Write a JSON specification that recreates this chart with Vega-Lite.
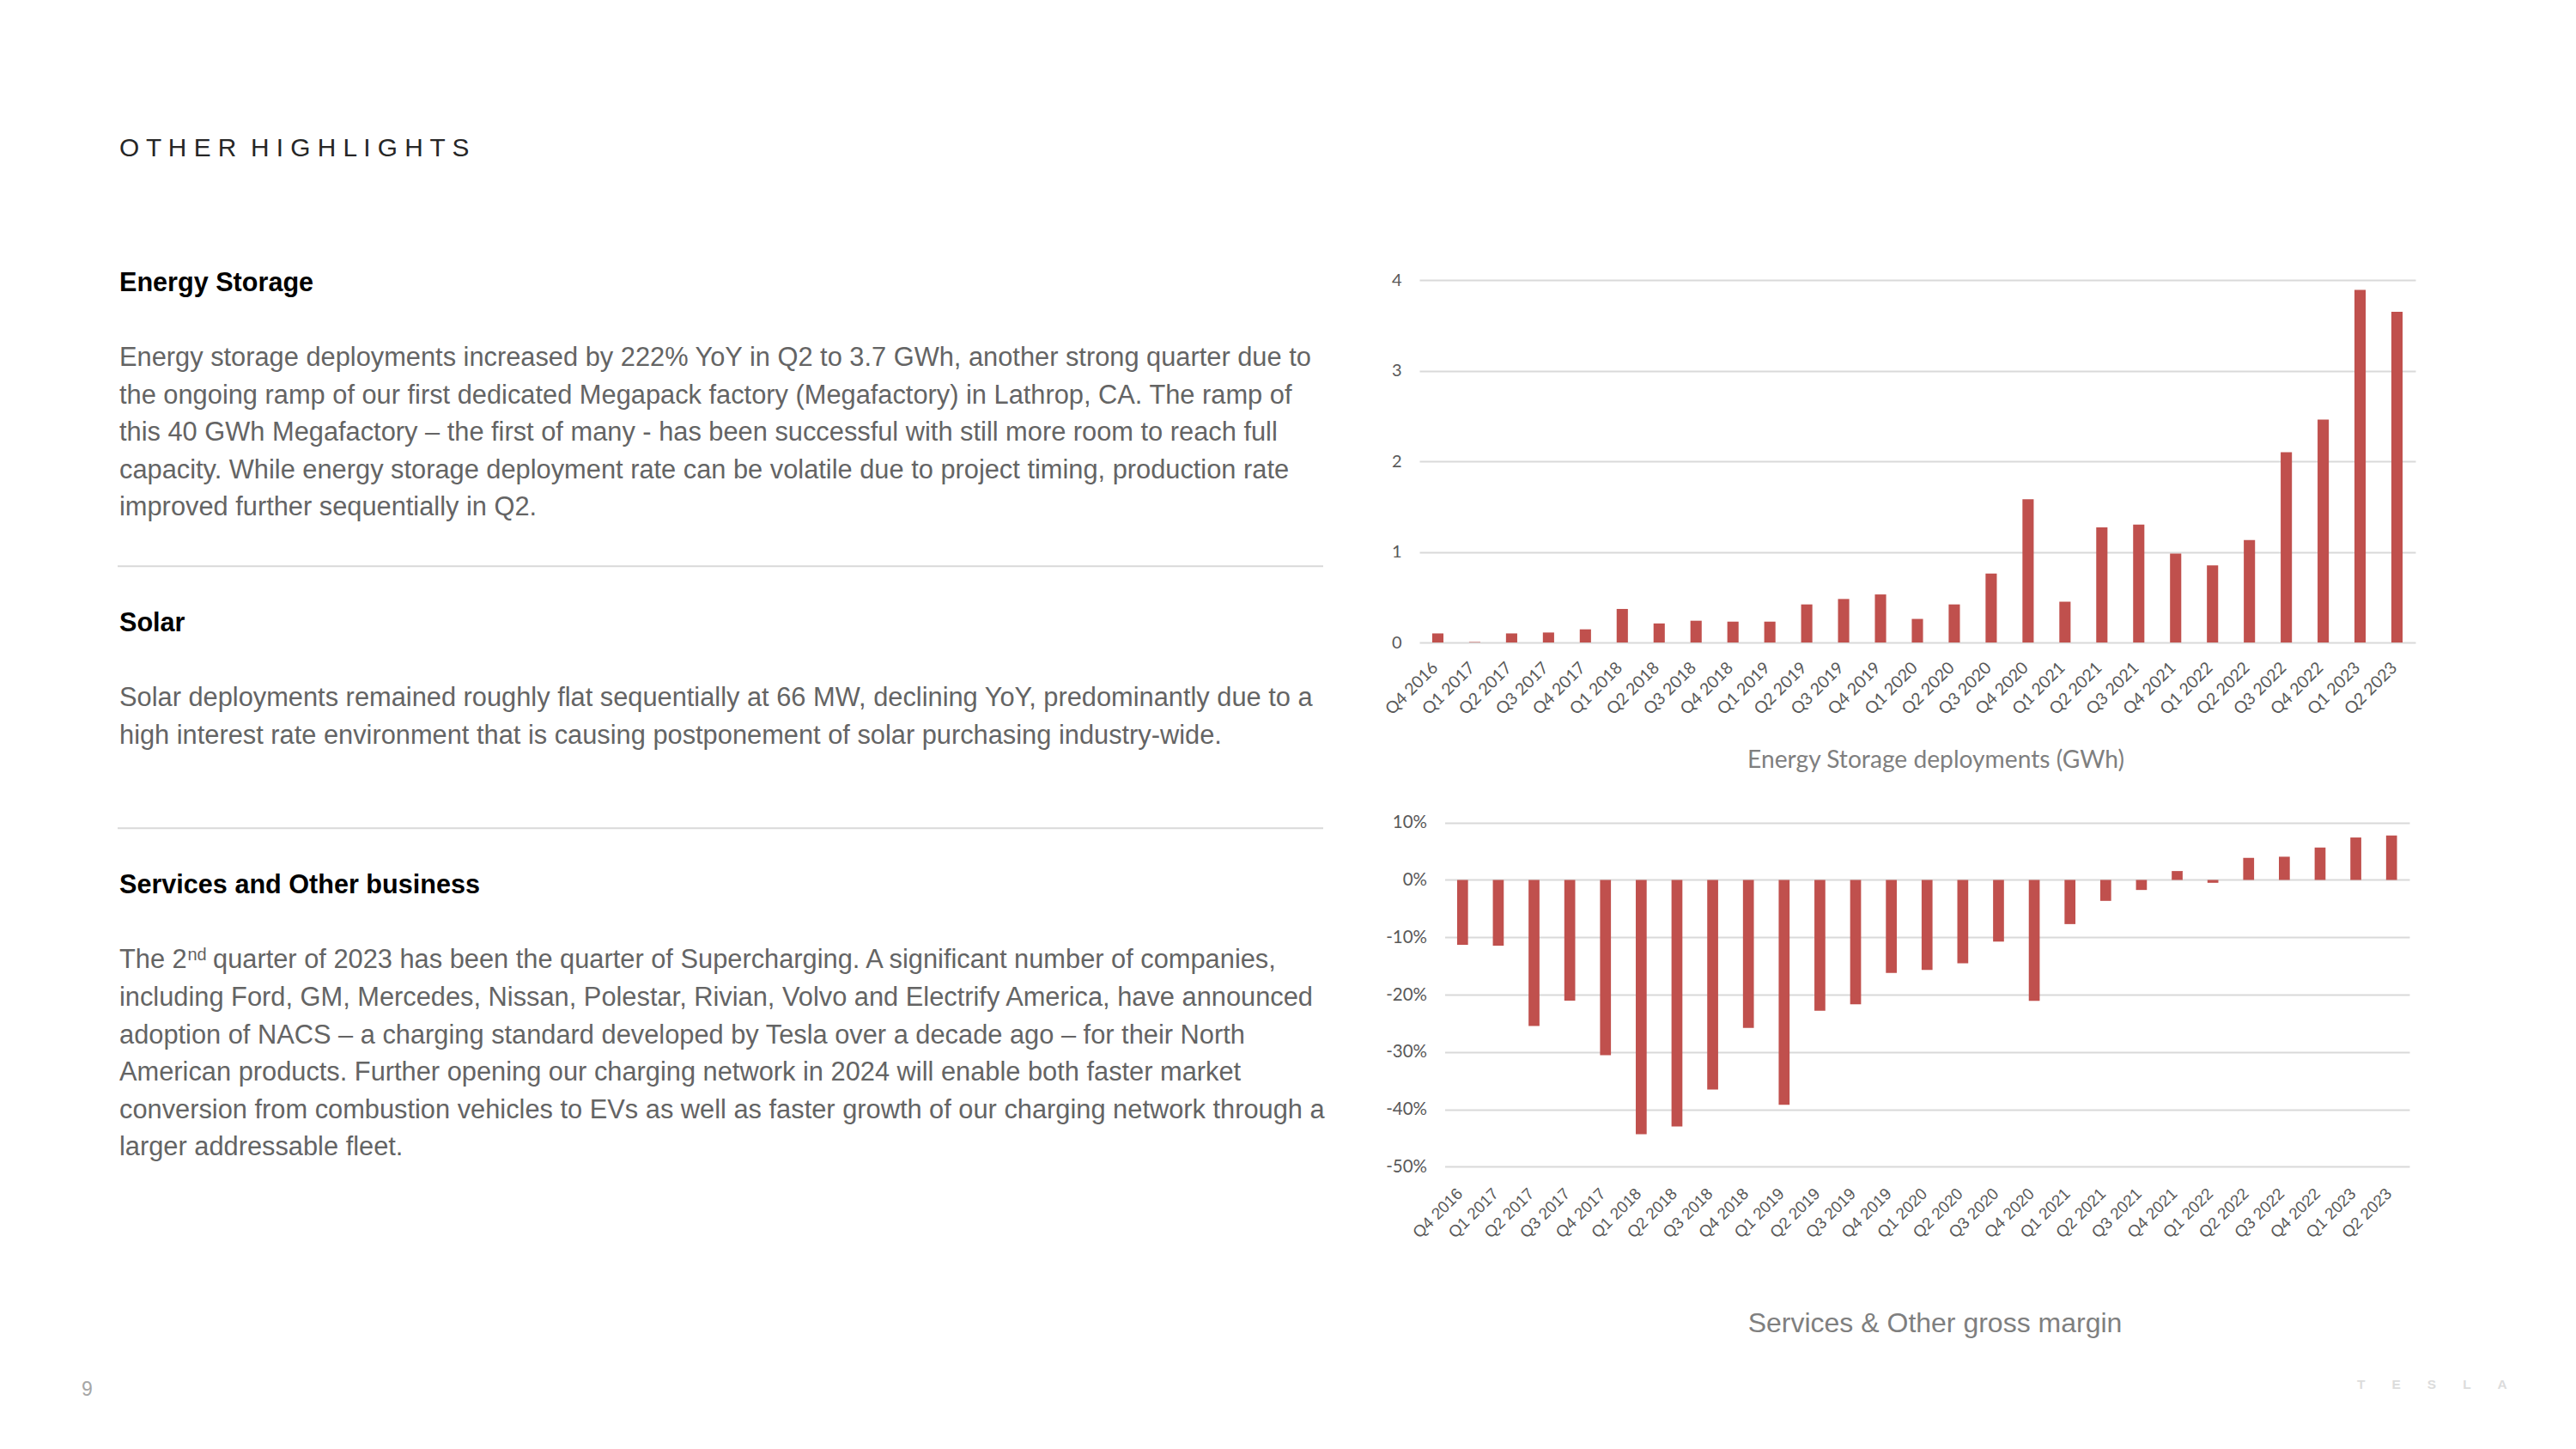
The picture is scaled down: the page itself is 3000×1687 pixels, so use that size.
{
  "$schema": "https://vega.github.io/schema/vega-lite/v6.json",
  "width": 3000,
  "height": 1687,
  "padding": 0,
  "autosize": {"type": "none"},
  "background": "white",
  "config": {"view": {"stroke": null}, "font": "Liberation Sans"},
  "datasets": {
    "q": [
      {"quarter": "Q4 2016", "storage": 0.10, "margin": -11.3},
      {"quarter": "Q1 2017", "storage": 0.005, "margin": -11.45},
      {"quarter": "Q2 2017", "storage": 0.10, "margin": -25.45},
      {"quarter": "Q3 2017", "storage": 0.11, "margin": -21.05},
      {"quarter": "Q4 2017", "storage": 0.145, "margin": -30.55},
      {"quarter": "Q1 2018", "storage": 0.37, "margin": -44.35},
      {"quarter": "Q2 2018", "storage": 0.21, "margin": -43.0},
      {"quarter": "Q3 2018", "storage": 0.24, "margin": -36.55},
      {"quarter": "Q4 2018", "storage": 0.23, "margin": -25.8},
      {"quarter": "Q1 2019", "storage": 0.23, "margin": -39.2},
      {"quarter": "Q2 2019", "storage": 0.42, "margin": -22.8},
      {"quarter": "Q3 2019", "storage": 0.48, "margin": -21.7},
      {"quarter": "Q4 2019", "storage": 0.53, "margin": -16.2},
      {"quarter": "Q1 2020", "storage": 0.26, "margin": -15.7},
      {"quarter": "Q2 2020", "storage": 0.42, "margin": -14.55},
      {"quarter": "Q3 2020", "storage": 0.76, "margin": -10.75},
      {"quarter": "Q4 2020", "storage": 1.58, "margin": -21.1},
      {"quarter": "Q1 2021", "storage": 0.45, "margin": -7.7},
      {"quarter": "Q2 2021", "storage": 1.27, "margin": -3.65},
      {"quarter": "Q3 2021", "storage": 1.30, "margin": -1.75},
      {"quarter": "Q4 2021", "storage": 0.98, "margin": 1.55},
      {"quarter": "Q1 2022", "storage": 0.85, "margin": -0.5},
      {"quarter": "Q2 2022", "storage": 1.13, "margin": 3.85},
      {"quarter": "Q3 2022", "storage": 2.10, "margin": 4.05},
      {"quarter": "Q4 2022", "storage": 2.46, "margin": 5.65},
      {"quarter": "Q1 2023", "storage": 3.89, "margin": 7.4},
      {"quarter": "Q2 2023", "storage": 3.65, "margin": 7.75}
    ]
  },
  "layer": [
    {
      "data": {"name": "q"},
      "mark": {"type": "bar", "color": "#C0504D"},
      "encoding": {
        "x": {
          "field": "quarter", "type": "nominal", "sort": null,
          "scale": {"range": [1653, 2813], "paddingInner": 0.695, "paddingOuter": 0.3475},
          "axis": {
            "orient": "bottom", "offset": -939,
            "title": "Energy Storage deployments (GWh)",
            "titleX": 2254, "titleY": 137, "titleAlign": "center", "titleBaseline": "middle", "titleAngle": 0,
            "titleFont": "Lato", "titleFontSize": 28.2, "titleFontWeight": "normal", "titleColor": "#7f7f7f",
            "labelAngle": -45, "labelAlign": "right", "labelBaseline": "middle",
            "labelPadding": 26, "labelOffset": -3, "labelFont": "Lato", "labelFontSize": 19.5, "labelColor": "#595959",
            "labelOverlap": false, "labelBound": false,
            "ticks": false, "tickSize": 0, "domain": false, "grid": false
          }
        },
        "y": {
          "field": "storage", "type": "quantitative",
          "scale": {"domain": [0, 4], "range": [748, 326], "nice": false},
          "axis": {
            "orient": "left", "offset": -1653, "values": [0, 1, 2, 3, 4], "title": null,
            "domain": false, "ticks": false, "tickSize": 0, "labelPadding": 21,
            "labelFont": "Lato", "labelFontSize": 20, "labelColor": "#595959",
            "grid": true, "gridColor": "#d9d9d9", "gridWidth": 2
          }
        }
      }
    },
    {
      "data": {"name": "q"},
      "mark": {"type": "bar", "color": "#C0504D"},
      "encoding": {
        "x": {
          "field": "quarter", "type": "nominal", "sort": null,
          "scale": {"range": [1682.5, 2806], "paddingInner": 0.695, "paddingOuter": 0.3475},
          "axis": {
            "orient": "bottom", "offset": -328.7,
            "title": "Services & Other gross margin",
            "titleX": 2253, "titleY": 181.7, "titleAlign": "center", "titleBaseline": "middle", "titleAngle": 0,
            "titleFont": "Liberation Sans", "titleFontSize": 32, "titleFontWeight": "normal", "titleColor": "#7f7f7f",
            "labelAngle": -45, "labelAlign": "right", "labelBaseline": "middle",
            "labelPadding": 28, "labelOffset": -3, "labelFont": "Liberation Sans", "labelFontSize": 19, "labelColor": "#595959",
            "labelOverlap": false, "labelBound": false,
            "ticks": false, "tickSize": 0, "domain": false, "grid": false
          }
        },
        "y": {
          "field": "margin", "type": "quantitative",
          "scale": {"domain": [-50, 10], "range": [1358.3, 957.7], "nice": false},
          "axis": {
            "orient": "left", "offset": -1682.5, "values": [-50, -40, -30, -20, -10, 0, 10], "title": null,
            "labelExpr": "datum.value + '%'",
            "domain": false, "ticks": false, "tickSize": 0, "labelPadding": 21,
            "labelFont": "Lato", "labelFontSize": 20.5, "labelColor": "#595959",
            "grid": true, "gridColor": "#d9d9d9", "gridWidth": 2
          }
        }
      }
    },
    {
      "data": {"values": [{}]},
      "mark": {"type": "text", "text": "O T H E R \u00a0H I G H L I G H T S", "x": 139, "y": 181.7, "align": "left", "baseline": "alphabetic", "font": "Liberation Sans", "fontSize": 29.8, "fill": "#262626"}
    },
    {
      "data": {"values": [{}]},
      "mark": {"type": "text", "text": "Energy Storage", "x": 139, "y": 339, "align": "left", "baseline": "alphabetic", "font": "Liberation Sans", "fontSize": 30.6, "fontWeight": "bold", "fill": "#000000"}
    },
    {
      "data": {"values": [{}]},
      "mark": {
        "type": "text",
        "text": [
          "Energy storage deployments increased by 222% YoY in Q2 to 3.7 GWh, another strong quarter due to",
          "the ongoing ramp of our first dedicated Megapack factory (Megafactory) in Lathrop, CA. The ramp of",
          "this 40 GWh Megafactory – the first of many - has been successful with still more room to reach full",
          "capacity. While energy storage deployment rate can be volatile due to project timing, production rate",
          "improved further sequentially in Q2."
        ],
        "x": 139, "y": 426, "lineHeight": 43.5, "align": "left", "baseline": "alphabetic",
        "font": "Liberation Sans", "fontSize": 30.8, "fill": "#646464"
      }
    },
    {
      "data": {"values": [{}]},
      "mark": {"type": "rule", "stroke": "#d9d9d9", "strokeWidth": 2},
      "encoding": {"x": {"value": 137}, "x2": {"value": 1541}, "y": {"value": 659.3}}
    },
    {
      "data": {"values": [{}]},
      "mark": {"type": "text", "text": "Solar", "x": 139, "y": 735, "align": "left", "baseline": "alphabetic", "font": "Liberation Sans", "fontSize": 30.6, "fontWeight": "bold", "fill": "#000000"}
    },
    {
      "data": {"values": [{}]},
      "mark": {
        "type": "text",
        "text": [
          "Solar deployments remained roughly flat sequentially at 66 MW, declining YoY, predominantly due to a",
          "high interest rate environment that is causing postponement of solar purchasing industry-wide."
        ],
        "x": 139, "y": 822.3, "lineHeight": 43.6, "align": "left", "baseline": "alphabetic",
        "font": "Liberation Sans", "fontSize": 30.8, "fill": "#646464"
      }
    },
    {
      "data": {"values": [{}]},
      "mark": {"type": "rule", "stroke": "#d9d9d9", "strokeWidth": 2},
      "encoding": {"x": {"value": 137}, "x2": {"value": 1541}, "y": {"value": 964.3}}
    },
    {
      "data": {"values": [{}]},
      "mark": {"type": "text", "text": "Services and Other business", "x": 139, "y": 1039.7, "align": "left", "baseline": "alphabetic", "font": "Liberation Sans", "fontSize": 30.6, "fontWeight": "bold", "fill": "#000000"}
    },
    {
      "data": {"values": [{}]},
      "mark": {"type": "text", "text": "The 2", "x": 139, "y": 1126.7, "align": "left", "baseline": "alphabetic", "font": "Liberation Sans", "fontSize": 30.8, "fill": "#646464"}
    },
    {
      "data": {"values": [{}]},
      "mark": {"type": "text", "text": "nd", "x": 218.5, "y": 1117.5, "align": "left", "baseline": "alphabetic", "font": "Liberation Sans", "fontSize": 20, "fill": "#646464"}
    },
    {
      "data": {"values": [{}]},
      "mark": {"type": "text", "text": "quarter of 2023 has been the quarter of Supercharging. A significant number of companies,", "x": 248, "y": 1126.7, "align": "left", "baseline": "alphabetic", "font": "Liberation Sans", "fontSize": 30.8, "fill": "#646464"}
    },
    {
      "data": {"values": [{}]},
      "mark": {
        "type": "text",
        "text": [
          "including Ford, GM, Mercedes, Nissan, Polestar, Rivian, Volvo and Electrify America, have announced",
          "adoption of NACS – a charging standard developed by Tesla over a decade ago – for their North",
          "American products. Further opening our charging network in 2024 will enable both faster market",
          "conversion from combustion vehicles to EVs as well as faster growth of our charging network through a",
          "larger addressable fleet."
        ],
        "x": 139, "y": 1171, "lineHeight": 43.5, "align": "left", "baseline": "alphabetic",
        "font": "Liberation Sans", "fontSize": 30.8, "fill": "#646464"
      }
    },
    {
      "data": {"values": [{}]},
      "mark": {"type": "text", "text": "9", "x": 95, "y": 1625, "align": "left", "baseline": "alphabetic", "font": "Liberation Sans", "fontSize": 23, "fill": "#a6a6a6"}
    },
    {
      "data": {"values": [{}]},
      "mark": {"type": "text", "text": "T\u2003\u2003E\u2003\u2003S\u2003\u2003L\u2003\u2003A", "x": 2745, "y": 1617, "align": "left", "baseline": "alphabetic", "font": "Liberation Sans", "fontSize": 15.5, "fontWeight": "bold", "fill": "#dcdcdc"}
    }
  ],
  "resolve": {
    "scale": {"x": "independent", "y": "independent"},
    "axis": {"x": "independent", "y": "independent"}
  }
}
